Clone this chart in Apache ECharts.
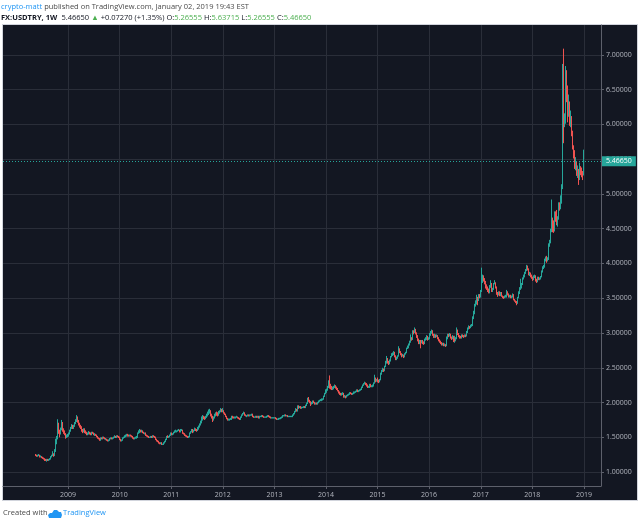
<!DOCTYPE html>
<html>
<head>
<meta charset="utf-8">
<script src="https://cdn.jsdelivr.net/npm/echarts@6/dist/echarts.min.js"></script>
<style>
html, body { margin: 0; padding: 0; background: #fff; }
#chart { width: 640px; height: 523px; }
</style>
</head>
<body>
<div id="chart"></div>
<script>
const firstOpen = 1.25;
const yearStart = {
	2008: "2008-05-19", 2009: "2009-01-05", 2010: "2010-01-04", 2011: "2011-01-03",
	2012: "2012-01-02", 2013: "2013-01-07", 2014: "2014-01-06", 2015: "2015-01-05",
	2016: "2016-01-04", 2017: "2017-01-02", 2018: "2018-01-01",
};

const closes2008 = [1.24,1.23, 1.24,1.24,1.22,1.23,1.21, 1.20,1.19,1.18,1.17, 1.18,1.17,1.18,1.19, 1.22,1.24,1.26,1.24,1.30, 1.42,1.48,1.68,1.58, 1.55,1.62,1.71,1.60, 1.58,1.55,1.50,1.52,1.53];
const highs2008 = [1.26,1.25, 1.25,1.26,1.25,1.24,1.23, 1.22,1.21,1.20,1.19, 1.19,1.19,1.19,1.20, 1.23,1.25,1.30,1.27,1.33, 1.48,1.52,1.76,1.71, 1.61,1.64,1.75,1.72, 1.63,1.60,1.56,1.54,1.55];
const lows2008 = [1.23,1.22, 1.22,1.23,1.21,1.21,1.20, 1.19,1.18,1.16,1.16, 1.15,1.16,1.16,1.17, 1.18,1.21,1.23,1.22,1.23, 1.29,1.40,1.47,1.55, 1.50,1.54,1.60,1.58, 1.55,1.53,1.48,1.49,1.50];

const closes2009 = [1.55,1.59,1.63,1.66, 1.64,1.66,1.70,1.73, 1.78,1.73,1.69,1.66,1.64, 1.60,1.58,1.61,1.58, 1.57,1.54,1.55,1.57, 1.56,1.54,1.57,1.56,1.54, 1.54,1.53,1.51,1.49, 1.48,1.46,1.49,1.48,1.50, 1.49,1.48,1.47,1.47, 1.46,1.45,1.46,1.48, 1.49,1.48,1.49,1.50,1.51, 1.50,1.52,1.51,1.50];
const highs2009 = [1.57,1.61,1.65,1.69, 1.68,1.68,1.72,1.76, 1.82,1.80,1.75,1.71,1.68, 1.66,1.62,1.63,1.63, 1.60,1.58,1.57,1.59, 1.58,1.57,1.58,1.58,1.57, 1.56,1.55,1.54,1.52, 1.50,1.49,1.50,1.50,1.51, 1.51,1.50,1.49,1.48, 1.48,1.47,1.47,1.49, 1.50,1.50,1.50,1.51,1.53, 1.52,1.53,1.53,1.52];
const lows2009 = [1.51,1.54,1.58,1.62, 1.62,1.62,1.65,1.69, 1.72,1.71,1.67,1.64,1.62, 1.58,1.56,1.57,1.56, 1.55,1.53,1.53,1.54, 1.54,1.53,1.53,1.55,1.53, 1.52,1.52,1.50,1.48, 1.47,1.45,1.45,1.47,1.47, 1.48,1.47,1.46,1.46, 1.45,1.44,1.44,1.45, 1.47,1.47,1.47,1.48,1.49, 1.49,1.49,1.50,1.49];

const closes2010 = [1.47,1.45,1.46,1.49, 1.50,1.52,1.52,1.54, 1.53,1.52,1.53,1.52,1.51, 1.49,1.48,1.49,1.49, 1.50,1.56,1.57,1.60,1.58, 1.59,1.57,1.56,1.56, 1.53,1.52,1.51,1.50, 1.50,1.51,1.50,1.52,1.51, 1.50,1.47,1.45,1.44, 1.42,1.41,1.42,1.40, 1.40,1.42,1.44,1.47,1.51, 1.50,1.51,1.53,1.55];
const highs2010 = [1.51,1.48,1.47,1.50, 1.51,1.53,1.54,1.55, 1.55,1.54,1.54,1.54,1.53, 1.52,1.50,1.50,1.51, 1.52,1.57,1.60,1.62,1.61, 1.61,1.60,1.58,1.57, 1.57,1.54,1.53,1.52, 1.51,1.52,1.52,1.53,1.53, 1.52,1.51,1.48,1.46, 1.45,1.43,1.43,1.43, 1.41,1.43,1.45,1.48,1.52, 1.53,1.52,1.54,1.57];
const lows2010 = [1.46,1.44,1.44,1.45, 1.48,1.49,1.50,1.51, 1.51,1.51,1.51,1.51,1.50, 1.48,1.47,1.47,1.48, 1.48,1.49,1.55,1.56,1.57, 1.57,1.56,1.55,1.54, 1.52,1.51,1.50,1.49, 1.49,1.49,1.49,1.49,1.50, 1.49,1.46,1.44,1.43, 1.41,1.40,1.40,1.39, 1.39,1.39,1.41,1.43,1.46, 1.49,1.49,1.50,1.52];

const closes2011 = [1.54,1.55,1.57,1.59,1.59, 1.59,1.60,1.60,1.58, 1.60,1.60,1.56,1.55, 1.53,1.52,1.51,1.50, 1.51,1.56,1.58,1.61,1.59, 1.58,1.60,1.62,1.61, 1.60,1.62,1.65,1.68, 1.71,1.76,1.79,1.78,1.77, 1.80,1.82,1.84,1.86, 1.88,1.82,1.79,1.76,1.78, 1.82,1.84,1.83,1.82, 1.86,1.88,1.90,1.88];
const highs2011 = [1.57,1.56,1.58,1.60,1.61, 1.60,1.61,1.62,1.61, 1.62,1.62,1.61,1.57, 1.56,1.54,1.53,1.52, 1.52,1.57,1.59,1.62,1.62, 1.60,1.61,1.64,1.63, 1.62,1.65,1.67,1.70, 1.74,1.80,1.82,1.81,1.80, 1.81,1.84,1.87,1.90, 1.91,1.89,1.84,1.81,1.80, 1.84,1.86,1.87,1.86, 1.88,1.89,1.92,1.91];
const lows2011 = [1.53,1.53,1.54,1.56,1.57, 1.57,1.58,1.59,1.57, 1.57,1.59,1.55,1.54, 1.52,1.51,1.50,1.49, 1.49,1.50,1.55,1.57,1.58, 1.56,1.57,1.59,1.59, 1.58,1.59,1.61,1.64, 1.67,1.70,1.74,1.76,1.75, 1.76,1.78,1.80,1.82, 1.84,1.80,1.77,1.72,1.74, 1.77,1.80,1.81,1.80, 1.81,1.84,1.86,1.86];

const closes2012 = [1.88,1.85,1.83,1.80,1.77, 1.75,1.75,1.76,1.76, 1.80,1.79,1.78,1.78, 1.79,1.79,1.78,1.77,1.76, 1.79,1.82,1.84,1.85, 1.82,1.81,1.81,1.82, 1.81,1.82,1.82,1.83,1.80, 1.79,1.79,1.80,1.79, 1.80,1.78,1.80,1.80, 1.81,1.80,1.79,1.79,1.79, 1.80,1.81,1.80,1.79, 1.78,1.78,1.78,1.78,1.78];
const highs2012 = [1.92,1.89,1.86,1.84,1.81, 1.78,1.77,1.77,1.78, 1.81,1.81,1.80,1.80, 1.80,1.81,1.80,1.79,1.78, 1.80,1.83,1.85,1.87, 1.86,1.83,1.82,1.83, 1.83,1.83,1.83,1.84,1.84, 1.81,1.80,1.81,1.81, 1.81,1.81,1.81,1.81, 1.82,1.82,1.81,1.80,1.80, 1.81,1.82,1.82,1.81, 1.80,1.79,1.79,1.79,1.79];
const lows2012 = [1.86,1.84,1.82,1.79,1.76, 1.74,1.74,1.74,1.75, 1.75,1.77,1.77,1.77, 1.77,1.78,1.77,1.76,1.75, 1.75,1.78,1.81,1.83, 1.81,1.80,1.79,1.80, 1.80,1.80,1.81,1.81,1.79, 1.78,1.78,1.78,1.78, 1.78,1.77,1.77,1.79, 1.79,1.79,1.78,1.78,1.78, 1.78,1.79,1.79,1.78, 1.77,1.77,1.77,1.77,1.77];

const closes2013 = [1.77,1.76,1.76,1.77, 1.77,1.77,1.78,1.79, 1.81,1.81,1.82,1.81, 1.81,1.80,1.80,1.80,1.80, 1.80,1.82,1.84,1.87, 1.90,1.88,1.95,1.93, 1.94,1.92,1.93,1.93,1.94, 1.93,1.96,1.99,2.04, 2.03,2.01,1.98,1.99,2.02, 2.00,1.98,1.99,1.98, 2.00,2.02,2.03,2.04, 2.04,2.05,2.09,2.13,2.16];
const highs2013 = [1.79,1.78,1.77,1.78, 1.78,1.78,1.79,1.80, 1.82,1.82,1.83,1.83, 1.82,1.82,1.81,1.81,1.81, 1.81,1.83,1.85,1.88, 1.92,1.91,1.96,1.96, 1.95,1.95,1.94,1.94,1.95, 1.95,1.97,2.00,2.07, 2.08,2.04,2.02,2.01,2.03, 2.03,2.01,2.00,2.00, 2.01,2.03,2.04,2.05, 2.06,2.06,2.10,2.14,2.19];
const lows2013 = [1.76,1.75,1.75,1.75, 1.76,1.76,1.76,1.77, 1.78,1.80,1.80,1.80, 1.80,1.79,1.79,1.79,1.79, 1.79,1.79,1.81,1.83, 1.86,1.87,1.87,1.91, 1.92,1.91,1.91,1.92,1.92, 1.92,1.92,1.95,1.98, 2.01,1.99,1.95,1.97,1.98, 1.99,1.97,1.97,1.97, 1.97,1.99,2.01,2.02, 2.02,2.03,2.04,2.08,2.12];

const closes2014 = [2.18,2.22,2.27,2.26, 2.23,2.19,2.22,2.22, 2.24,2.21,2.20,2.17,2.15, 2.13,2.12,2.12,2.13, 2.08,2.09,2.08,2.10, 2.11,2.12,2.14,2.13,2.12, 2.13,2.15,2.15,2.16, 2.18,2.16,2.17,2.18, 2.19,2.22,2.25,2.27,2.28, 2.27,2.25,2.24,2.22, 2.22,2.26,2.23,2.23, 2.24,2.28,2.33,2.31,2.33];
const highs2014 = [2.20,2.24,2.32,2.39, 2.27,2.24,2.23,2.24, 2.26,2.25,2.23,2.21,2.18, 2.16,2.14,2.14,2.15, 2.14,2.11,2.10,2.11, 2.12,2.13,2.15,2.15,2.14, 2.14,2.16,2.16,2.17, 2.19,2.19,2.18,2.19, 2.20,2.23,2.26,2.28,2.30, 2.29,2.28,2.26,2.25, 2.24,2.27,2.27,2.25, 2.26,2.29,2.40,2.36,2.34];
const lows2014 = [2.14,2.17,2.21,2.20, 2.19,2.18,2.18,2.19, 2.21,2.20,2.18,2.16,2.13, 2.11,2.10,2.10,2.11, 2.07,2.07,2.06,2.07, 2.09,2.10,2.11,2.12,2.11, 2.11,2.12,2.13,2.14, 2.15,2.15,2.15,2.16, 2.17,2.18,2.21,2.24,2.26, 2.25,2.23,2.22,2.21, 2.21,2.21,2.22,2.22, 2.22,2.23,2.27,2.29,2.30];

const closes2015 = [2.31,2.30,2.33,2.42, 2.45,2.48,2.46,2.52, 2.57,2.63,2.58,2.56,2.60, 2.66,2.69,2.70,2.72, 2.67,2.62,2.64,2.67, 2.76,2.73,2.70,2.67,2.68, 2.66,2.70,2.72,2.78, 2.80,2.83,2.87,2.92,2.91, 3.02,3.01,3.04,3.00, 2.95,2.90,2.86,2.88, 2.87,2.89,2.86,2.85,2.90, 2.92,2.95,2.91,2.92];
const highs2015 = [2.36,2.33,2.34,2.43, 2.47,2.50,2.49,2.53, 2.60,2.67,2.64,2.60,2.62, 2.67,2.71,2.72,2.74, 2.73,2.68,2.66,2.68, 2.81,2.78,2.74,2.71,2.70, 2.69,2.71,2.73,2.79, 2.82,2.85,2.89,2.98,2.94, 3.04,3.04,3.08,3.06, 3.01,2.97,2.92,2.90, 2.90,2.90,2.90,2.88,2.92, 2.94,2.97,2.96,2.94];
const lows2015 = [2.29,2.28,2.29,2.32, 2.40,2.44,2.44,2.45, 2.51,2.56,2.56,2.54,2.55, 2.59,2.65,2.67,2.68, 2.65,2.61,2.61,2.63, 2.66,2.71,2.68,2.65,2.66, 2.64,2.65,2.69,2.71, 2.77,2.78,2.82,2.86,2.89, 2.90,2.98,3.00,2.98, 2.93,2.88,2.84,2.84, 2.78,2.85,2.84,2.83,2.84, 2.89,2.90,2.89,2.90];

const closes2016 = [2.98,3.01,3.03,2.98, 2.95,2.97,2.95,2.96,2.93, 2.90,2.88,2.86,2.84, 2.84,2.83,2.83,2.82, 2.92,2.97,2.96,2.98,2.93, 2.92,2.95,2.88,2.90, 2.89,2.92,3.03,2.99, 2.96,2.94,2.93,2.97,2.96, 2.95,2.97,2.96,3.01, 3.07,3.09,3.08,3.10,3.11, 3.22,3.28,3.40,3.43, 3.50,3.47,3.54,3.52];
const highs2016 = [3.00,3.03,3.05,3.04, 2.99,2.99,2.98,2.98,2.97, 2.94,2.91,2.89,2.87, 2.86,2.86,2.85,2.84, 2.95,2.99,2.99,3.00,2.99, 2.95,2.97,2.96,2.96, 2.92,2.94,3.08,3.05, 3.00,2.97,2.96,2.98,2.98, 2.97,2.98,2.98,3.03, 3.08,3.11,3.10,3.12,3.13, 3.24,3.32,3.42,3.47, 3.55,3.52,3.56,3.56];
const lows2016 = [2.91,2.96,2.99,2.96, 2.93,2.93,2.93,2.94,2.91, 2.88,2.86,2.84,2.82, 2.82,2.81,2.81,2.80, 2.81,2.91,2.94,2.95,2.92, 2.90,2.91,2.87,2.86, 2.88,2.88,2.91,2.97, 2.94,2.92,2.92,2.92,2.94, 2.93,2.94,2.94,2.95, 3.00,3.05,3.06,3.07,3.09, 3.10,3.20,3.27,3.38, 3.41,3.40,3.46,3.50];

const closes2017 = [3.60,3.78,3.81,3.78,3.73, 3.67,3.66,3.62,3.58, 3.67,3.70,3.60,3.63, 3.71,3.72,3.66,3.57, 3.55,3.58,3.54,3.58,3.53, 3.52,3.51,3.52,3.52, 3.58,3.56,3.53,3.53,3.52, 3.52,3.55,3.48,3.46, 3.45,3.43,3.51,3.57, 3.64,3.66,3.70,3.78,3.81, 3.86,3.90,3.94,3.92, 3.84,3.86,3.82,3.80];
const highs2017 = [3.62,3.94,3.84,3.83,3.79, 3.75,3.70,3.67,3.64, 3.69,3.76,3.72,3.65, 3.72,3.76,3.73,3.67, 3.59,3.60,3.60,3.59,3.59, 3.54,3.53,3.54,3.55, 3.62,3.60,3.57,3.55,3.55, 3.54,3.57,3.56,3.49, 3.47,3.46,3.52,3.60, 3.66,3.78,3.72,3.80,3.84, 3.88,3.92,3.98,3.97, 3.93,3.88,3.87,3.84];
const lows2017 = [3.51,3.59,3.72,3.74,3.70, 3.64,3.62,3.59,3.57, 3.57,3.65,3.59,3.59, 3.62,3.70,3.64,3.55, 3.52,3.54,3.53,3.53,3.52, 3.50,3.49,3.50,3.51, 3.51,3.54,3.51,3.51,3.50, 3.50,3.51,3.47,3.45, 3.43,3.40,3.42,3.50, 3.56,3.62,3.64,3.69,3.77, 3.80,3.85,3.89,3.90, 3.83,3.82,3.80,3.78];

const closes2018 = [3.77,3.81,3.82,3.76,3.74, 3.79,3.78,3.79,3.81, 3.85,3.88,3.94,3.95, 4.05,4.07,4.06,4.06,4.26, 4.30,4.47,4.62,4.50, 4.47,4.72,4.67,4.56, 4.65,4.84,4.80,4.89,5.10, 6.43,6.02,6.03,6.58, 6.45,6.17,6.29,6.05, 6.08,5.87,5.67,5.60,5.42, 5.44,5.32,5.33,5.21, 5.36,5.34,5.29,5.26555,5.46650];
const highs2018 = [3.81,3.83,3.84,3.83,3.78, 3.81,3.81,3.80,3.82, 3.87,3.90,3.96,3.98, 4.07,4.10,4.11,4.09,4.29, 4.34,4.50,4.92,4.66, 4.62,4.75,4.75,4.77, 4.68,4.88,4.88,4.98,5.14, 6.87,7.09,6.16,6.84, 6.78,6.56,6.43,6.33, 6.20,6.12,5.91,5.70,5.63, 5.53,5.46,5.41,5.36, 5.45,5.40,5.38,5.33,5.63715];
const lows2018 = [3.75,3.76,3.79,3.74,3.72, 3.73,3.76,3.76,3.77, 3.80,3.84,3.87,3.92, 3.94,4.03,4.01,4.03,4.05, 4.24,4.29,4.45,4.45, 4.44,4.46,4.60,4.55, 4.53,4.63,4.76,4.78,4.86, 5.07,5.73,5.96,6.01, 6.32,6.03,6.11,5.98, 5.96,5.83,5.64,5.51,5.36, 5.34,5.26,5.23,5.13, 5.20,5.27,5.24,5.20,5.26555];

const yearTicks = [2009, 2010, 2011, 2012, 2013, 2014, 2015, 2016, 2017, 2018, 2019];
const priceTicks = [1, 1.5, 2, 2.5, 3, 3.5, 4, 4.5, 5, 5.5, 6, 6.5, 7];

const headerLine1 = "{user|crypto-matt} {txt|published on TradingView.com, January 02, 2019 19:43 EST}";
const headerLine2 = "{sym|FX:USDTRY, 1W}  {txt|5.46650} {up|▲} {txt|+0.07270 (+1.35%)} {txt|O:}{up|5.26555} {txt|H:}{up|5.63715} {txt|L:}{up|5.26555} {txt|C:}{up|5.46650}";

const upColor = "#26a69a";
const downColor = "#ef5350";

const byYear = {
	2008: [closes2008, highs2008, lows2008], 2009: [closes2009, highs2009, lows2009],
	2010: [closes2010, highs2010, lows2010], 2011: [closes2011, highs2011, lows2011],
	2012: [closes2012, highs2012, lows2012], 2013: [closes2013, highs2013, lows2013],
	2014: [closes2014, highs2014, lows2014], 2015: [closes2015, highs2015, lows2015],
	2016: [closes2016, highs2016, lows2016], 2017: [closes2017, highs2017, lows2017],
	2018: [closes2018, highs2018, lows2018],
};

const WEEK = 7 * 864e5;
var candles = [];
var prevClose = firstOpen;
Object.keys(byYear).forEach(function (y) {
	var t0 = Date.parse(yearStart[y] + "T00:00:00Z");
	var cs = byYear[y][0], hs = byYear[y][1], ls = byYear[y][2];
	cs.forEach(function (c, i) {
		var o = prevClose;
		var h = Math.max(hs[i], o, c);
		var l = Math.min(ls[i], o, c);
		candles.push([t0 + i * WEEK, o, c, l, h]);
		prevClose = c;
	});
});
var lastClose = prevClose;
var yearTickTimes = yearTicks.map(function (y) { return Date.UTC(y, 0, 1); });

var font = "Open Sans, Noto Sans, sans-serif";
var myChart = echarts.init(document.getElementById("chart"));
var option = {
	animation: false,
	backgroundColor: "#ffffff",
	title: [
		{
			left: 1, top: 2, padding: 0, text: headerLine1,
			textStyle: {
				fontWeight: "normal", fontSize: 7.5, lineHeight: 10,
				rich: {
					user: { color: "#2196f3", fontSize: 7.5, fontWeight: "normal", fontFamily: font },
					txt: { color: "#4a4a4a", fontSize: 7.5, fontWeight: "normal", fontFamily: font },
				},
			},
		},
		{
			left: 1, top: 13, padding: 0, text: headerLine2,
			textStyle: {
				fontWeight: "normal", fontSize: 7.5, lineHeight: 10,
				rich: {
					sym: { color: "#131722", fontSize: 7.5, fontWeight: "bold", fontFamily: font },
					txt: { color: "#131722", fontSize: 7.5, fontWeight: "normal", fontFamily: font },
					up: { color: "#4caf50", fontSize: 7.5, fontWeight: "normal", fontFamily: font },
				},
			},
		},
	],
	graphic: [
		{
			type: "rect", z: -10, silent: true,
			shape: { x: 2.5, y: 24.5, width: 635, height: 476 },
			style: { fill: "#131722", stroke: "#d1d4dc", lineWidth: 1 },
		},
		{
			type: "text", x: 3, y: 509,
			style: { text: "Created with", fill: "#4a4a4a", font: "7.5px " + font },
		},
		{
			type: "polygon", silent: true,
			shape: { points: [[49, 518], [48, 515], [50, 513], [52, 513], [54, 510], [57, 510], [59, 512], [61, 512], [62, 515], [61, 518]] },
			style: { fill: "#2196f3" },
		},
		{
			type: "text", x: 63, y: 509,
			style: { text: "TradingView", fill: "#2196f3", font: "7.5px " + font },
		},
	],
	grid: { left: 3, right: 39, top: 25, bottom: 37, containLabel: false },
	xAxis: {
		type: "value",
		min: Date.UTC(2007, 8, 28),
		max: Date.UTC(2019, 4, 2),
		axisLine: { show: true, lineStyle: { color: "#5d606b" } },
		axisTick: {
			show: true, length: 3, lineStyle: { color: "#5d606b" },
			customValues: yearTickTimes,
		},
		axisLabel: {
			customValues: yearTickTimes,
			formatter: function (v) { return String(new Date(v).getUTCFullYear()); },
			color: "#b2b5be", fontSize: 7, margin: 5, fontFamily: font,
		},
		splitLine: { show: true, lineStyle: { color: "#2a2e39" } },
	},
	yAxis: {
		type: "value",
		position: "right",
		min: 0.8,
		max: 7.43,
		axisLine: { show: true, lineStyle: { color: "#5d606b" } },
		axisTick: { show: true, length: 3, lineStyle: { color: "#5d606b" }, customValues: priceTicks },
		axisLabel: {
			customValues: priceTicks,
			formatter: function (v) { return v.toFixed(5); },
			color: "#b2b5be", fontSize: 7, margin: 5, fontFamily: font,
		},
		splitLine: { show: true, lineStyle: { color: "#2a2e39" } },
	},
	series: [
		{
			name: "USDTRY",
			type: "candlestick",
			data: candles,
			encode: { x: 0, y: [1, 2, 3, 4] },
			barWidth: 1,
			itemStyle: {
				color: upColor,
				color0: downColor,
				borderColor: upColor,
				borderColor0: downColor,
				borderWidth: 1,
			},
			markLine: {
				silent: true,
				symbol: ["none", "none"],
				data: [{ yAxis: lastClose }],
				lineStyle: { color: upColor, type: [1, 2], width: 1 },
				label: {
					position: "end",
					distance: 1,
					formatter: function () { return lastClose.toFixed(5); },
					color: "#ffffff",
					backgroundColor: upColor,
					fontSize: 7,
					fontFamily: font,
					padding: [2, 4, 1, 4],
				},
			},
		},
	],
};

option && myChart.setOption(option);
</script>
</body>
</html>
